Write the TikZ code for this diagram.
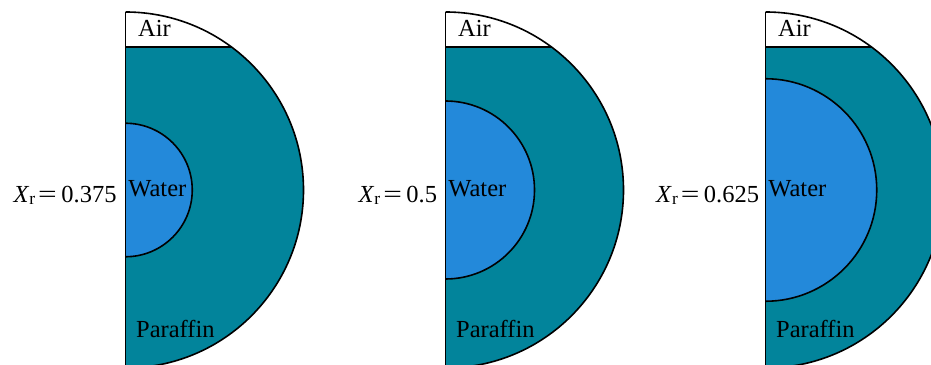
\documentclass[tikz,border=0pt]{standalone}
\usepackage{fontspec}
\setmainfont{Liberation Serif}
\newfontfamily\tnr{Liberation Serif}
\definecolor{paraffin}{RGB}{2,132,155}
\definecolor{waterc}{RGB}{35,137,218}
\tikzset{
  outline/.style={draw=black, line width=1.6pt},
  lbl/.style={inner sep=0pt, font=\tnr\fontsize{24.5}{24.5}\selectfont},
}
\newcommand{\Xr}{\textit{X}\raisebox{-2pt}{\fontsize{17.5}{17.5}\selectfont r}\hspace{3pt}\scalebox{1.35}[1]{=}\hspace{4.5pt}}
\begin{document}
\begin{tikzpicture}[x=1pt,y=1pt]
\useasboundingbox (0,0) rectangle (931,364);
\clip (0,0) rectangle (931,364);
\def\R{178}
\def\cy{174}
\def\airy{317}
\def\airang{53.46}
\foreach \cx/\r/\val/\lx/\nm in {125.5/66.75/0.375/116.7/a, 445.5/89/0.5/437.3/b, 765.5/111.25/0.625/759.3/c}{
  \fill[paraffin] (\cx,\cy+\R) arc[start angle=90, end angle=-90, radius=\R] -- cycle;
  \fill[white] (\cx,\cy+\R) arc[start angle=90, end angle=\airang, radius=\R] -- (\cx,\airy) -- cycle;
  \filldraw[fill=waterc, outline] (\cx,\cy+\r) arc[start angle=90, end angle=-90, radius=\r];
  \draw[outline] (\cx,\cy+\R) arc[start angle=90, end angle=-90, radius=\R];
  \draw[outline] (\cx,\cy+\R) -- (\cx,\cy-\R);
  \draw[outline] (\cx,\airy) -- ({\cx+\R*cos(\airang)},\airy);
  \node[lbl, anchor=base west] (air\nm) at (\cx+12.5,327.3) {Air};
  \node[lbl, anchor=base west] (water\nm) at (\cx+2.7,167) {Water};
  \node[lbl, anchor=base west] (paraffin\nm) at (\cx+10.5,26.3) {Paraffin};
  \node[lbl, anchor=base east] (xr\nm) at (\lx,161) {\Xr\val};
}
\end{tikzpicture}
\end{document}
